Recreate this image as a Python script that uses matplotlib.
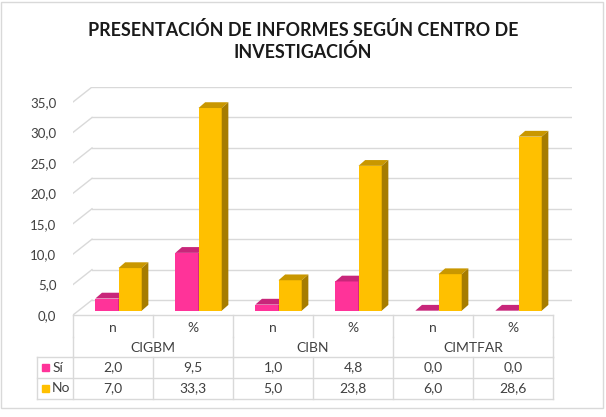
import numpy as np
import matplotlib.pyplot as plt
from matplotlib.patches import Polygon, Rectangle

# Data
centros = ['CIGBM', 'CIBN', 'CIMTFAR']
categorias = ['n', '%', 'n', '%', 'n', '%']
series = ['Sí', 'No']
si_vals = [2.0, 9.5, 1.0, 4.8, 0.0, 0.0]
no_vals = [7.0, 33.3, 5.0, 23.8, 6.0, 28.6]
yticks = [0, 5, 10, 15, 20, 25, 30, 35]

# Colours: front, top, side
pink = ['#FF3399', '#C8267A', '#A81F62']
gold = ['#FFC000', '#C99700', '#A67C00']
grid_c = '#D9D9D9'
txt_c = '#404040'

plt.rcParams['font.family'] = ['Lato', 'DejaVu Sans']

W, H = 606, 417
fig = plt.figure(figsize=(W / 100, H / 100), dpi=100)

# 3D-ish geometry (data units)
bx, by = 0.2375, 2.46      # back wall offset
dx0, dy0 = 0.069, 0.71     # bar front offset
ddx, ddy = 0.083, 0.95     # bar depth
bw = 0.29                  # bar width
ymax = 35

px_per_y = (315 - 102) / ymax
ax = fig.add_axes([73 / W, 1 - 315 / H, (80 * (6 + bx)) / W, (ymax + by) * px_per_y / H])
ax.set_xlim(-0.5, 5.5 + bx)
ax.set_ylim(0, ymax + by)
for s in ax.spines.values():
    s.set_visible(False)
ax.set_xticks([])
ax.set_yticks(yticks)
ax.set_yticklabels([f'{v:.1f}'.replace('.', ',') for v in yticks], fontsize=9.5, color=txt_c)
ax.tick_params(axis='y', length=0, pad=12)

# walls / gridlines
for v in yticks:
    ax.plot([-0.5 + bx, 5.5 + bx], [v + by, v + by], color=grid_c, lw=1, zorder=1)
    ax.plot([-0.5, -0.5 + bx], [v, v + by], color=grid_c, lw=1, zorder=1)
ax.plot([-0.5, 5.5], [0, 0], color=grid_c, lw=1, zorder=1, clip_on=False)

x = np.arange(len(categorias))
z = 3
for i in range(len(categorias)):
    for j, (vals, cols) in enumerate([(si_vals, pink), (no_vals, gold)]):
        h = vals[i]
        x0 = x[i] + dx0 - bw + j * bw
        ax.bar(x0, h, width=bw, bottom=dy0, align='edge', color=cols[0], lw=0, zorder=z)
        top = [(x0, dy0 + h), (x0 + bw, dy0 + h), (x0 + bw + ddx, dy0 + h + ddy), (x0 + ddx, dy0 + h + ddy)]
        side = [(x0 + bw, dy0), (x0 + bw + ddx, dy0 + ddy), (x0 + bw + ddx, dy0 + h + ddy), (x0 + bw, dy0 + h)]
        ax.add_patch(Polygon(top, closed=True, color=cols[1], lw=0, zorder=z))
        if h > 0:
            ax.add_patch(Polygon(side, closed=True, color=cols[2], lw=0, zorder=z))
        z += 1

# data table below
tb = fig.add_axes([37 / W, 1 - 399 / H, 516 / W, 84 / H])
tb.set_xlim(-0.95, 5.5)
tb.set_ylim(84, 0)
tb.axis('off')
lkw = dict(color=grid_c, lw=1, clip_on=False)
for b in np.arange(-0.5, 6, 1):
    tb.plot([b, b], [0, 22], **lkw)
    tb.plot([b, b], [42, 84], **lkw)
for b in [-0.5, 1.5, 3.5, 5.5]:
    tb.plot([b, b], [22, 42], **lkw)
tb.plot([-0.95, -0.95], [42, 84], **lkw)
for yy in [42, 63, 84]:
    tb.plot([-0.95, 5.5], [yy, yy], **lkw)

fs = 10
for i, c in enumerate(categorias):
    tb.text(x[i], 13, c, ha='center', va='center', fontsize=fs, color=txt_c)
for k, c in enumerate(centros):
    tb.text(2 * k + 0.5, 33, c, ha='center', va='center', fontsize=fs, color=txt_c)
for r, (name, vals, cols) in enumerate([(series[0], si_vals, pink), (series[1], no_vals, gold)]):
    yy = 52.5 + r * 21
    tb.add_patch(Rectangle((-0.885, yy - 3.5), 0.085, 7, color=cols[0], clip_on=False))
    tb.text(-0.76, yy, name, ha='left', va='center', fontsize=fs, color=txt_c)
    for i, v in enumerate(vals):
        tb.text(x[i], yy, f'{v:.1f}'.replace('.', ','), ha='center', va='center', fontsize=fs, color=txt_c)

fig.text(0.5, 1 - 41 / H, 'PRESENTACIÓN DE INFORMES SEGÚN CENTRO DE\nINVESTIGACIÓN',
         ha='center', va='center', fontsize=12.9, fontweight='bold', color='#1a1a1a',
         linespacing=1.2)

fig.add_artist(Rectangle((1 / W, 1 - 408 / H), 602 / W, 406 / H, transform=fig.transFigure,
                         fill=False, edgecolor=grid_c, lw=1))

fig.savefig('out.png', dpi=100)
